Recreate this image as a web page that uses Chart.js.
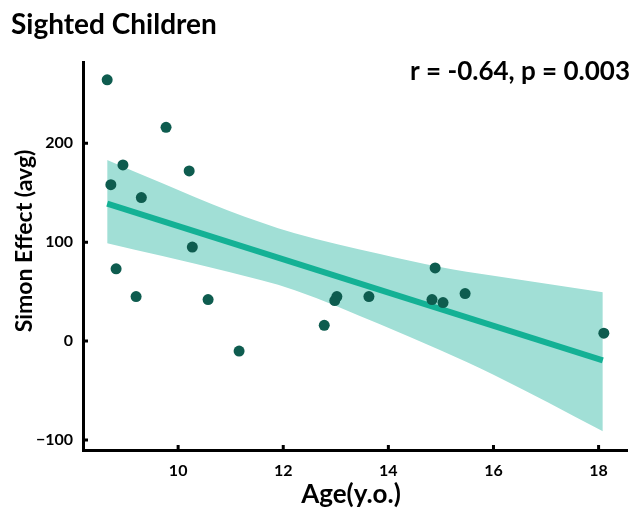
<!DOCTYPE html>
<html>
<head>
<meta charset="utf-8">
<script src="https://cdn.jsdelivr.net/npm/chart.js@4/dist/chart.umd.min.js"></script>
<style>
html,body{margin:0;padding:0;background:#fff;}
#wrap{width:633px;height:512px;position:relative;}
</style>
</head>
<body>
<div id="wrap"><canvas id="c" width="633" height="512"></canvas></div>
<script>
// Data
const ages = [8.65, 9.77, 10.21, 8.95, 8.72, 9.30, 10.27, 8.82, 9.20, 10.57, 11.16, 12.78, 12.98, 13.02, 13.63, 14.83, 14.89, 15.04, 15.46, 18.10];
const simonEffect = [264, 216, 172, 178, 158, 145, 95, 73, 45, 42, -10, 16, 41, 45, 45, 42, 74, 39, 48, 8];
const fitAges = [8.65, 18.08];
const fitValues = [139, -19.5];
const bandAges = [8.65, 9.70, 10.95, 12.22, 13.84, 14.98, 16.00, 18.08];
const bandUpper = [183, 159.5, 132, 109, 88, 75, 66, 49.5];
const bandLower = [99, 86, 70, 51.5, 17, -9, -34, -91];
const xTicks = [10, 12, 14, 16, 18];
const yTicks = [-100, 0, 100, 200];
const titleText = 'Sighted Children';
const statText = 'r = -0.64, p = 0.003';
const xTitle = 'Age(y.o.)';
const yTitle = 'Simon Effect (avg)';

const FONT = 'Lato, "Open Sans", sans-serif';
const zip = (xs, ys) => xs.map((x, i) => ({x: x, y: ys[i]}));

const textPlugin = {
  id: 'texts',
  afterDraw(chart) {
    const ctx = chart.ctx;
    const ca = chart.chartArea;
    ctx.save();
    ctx.fillStyle = '#000';
    // title
    ctx.font = 'bold 28px ' + FONT;
    ctx.textAlign = 'left';
    ctx.textBaseline = 'alphabetic';
    ctx.fillText(titleText, 11, 34);
    // stats
    ctx.font = 'bold 26px ' + FONT;
    ctx.textAlign = 'right';
    ctx.fillText(statText, 630, 80);
    // x title
    ctx.font = 'bold 26px ' + FONT;
    ctx.textAlign = 'center';
    ctx.textBaseline = 'middle';
    ctx.fillText(xTitle, 351, 495);
    // y title
    ctx.translate(25, 241);
    ctx.rotate(-Math.PI / 2);
    ctx.font = 'bold 23px ' + FONT;
    ctx.fillText(yTitle, 0, 0);
    ctx.restore();

    // inward tick marks
    const xs = chart.scales.x, ys = chart.scales.y;
    ctx.save();
    ctx.strokeStyle = '#000';
    ctx.lineWidth = 3;
    ctx.beginPath();
    xTicks.forEach(v => {
      const px = xs.getPixelForValue(v);
      ctx.moveTo(px, ca.bottom);
      ctx.lineTo(px, ca.bottom - 5);
    });
    yTicks.forEach(v => {
      const py = ys.getPixelForValue(v);
      ctx.moveTo(ca.left, py);
      ctx.lineTo(ca.left + 5, py);
    });
    ctx.stroke();
    ctx.restore();
  }
};

new Chart(document.getElementById('c'), {
  type: 'line',
  data: {
    datasets: [
      {
        label: 'upper',
        data: zip(bandAges, bandUpper),
        borderWidth: 0,
        borderColor: 'rgba(0,0,0,0)',
        pointRadius: 0,
        fill: '+1',
        backgroundColor: '#a1dfd6',
        cubicInterpolationMode: 'monotone',
        order: 3
      },
      {
        label: 'lower',
        data: zip(bandAges, bandLower),
        borderWidth: 0,
        borderColor: 'rgba(0,0,0,0)',
        pointRadius: 0,
        fill: false,
        cubicInterpolationMode: 'monotone',
        order: 4
      },
      {
        label: 'fit',
        data: zip(fitAges, fitValues),
        borderColor: '#14b195',
        borderWidth: 6,
        pointRadius: 0,
        fill: false,
        order: 2
      },
      {
        label: 'children',
        data: zip(ages, simonEffect),
        showLine: false,
        pointRadius: 5.5,
        pointBackgroundColor: '#0e5c4f',
        pointBorderWidth: 0,
        order: 0
      }
    ]
  },
  options: {
    responsive: false,
    animation: false,
    devicePixelRatio: 1,
    layout: {padding: {left: 0, right: 5, top: 62, bottom: 0}},
    plugins: {legend: {display: false}, tooltip: {enabled: false}, title: {display: false}},
    scales: {
      x: {
        type: 'linear',
        min: 8.19,
        max: 18.55,
        afterFit(s) { s.height = 62; },
        afterBuildTicks(s) { s.ticks = xTicks.map(v => ({value: v})); },
        grid: {display: false, drawTicks: false},
        border: {display: true, color: '#000', width: 3},
        ticks: {color: '#000', padding: 11, font: {family: FONT, size: 16, weight: 'bold'}, maxRotation: 0}
      },
      y: {
        type: 'linear',
        min: -110,
        max: 282,
        afterFit(s) { s.width = 83; },
        afterBuildTicks(s) { s.ticks = yTicks.map(v => ({value: v})); },
        grid: {display: false, drawTicks: false},
        border: {display: true, color: '#000', width: 3},
        ticks: {
          color: '#000', padding: 10, font: {family: FONT, size: 16, weight: 'bold'},
          callback: v => (v < 0 ? '\u2212' + Math.abs(v) : String(v))
        }
      }
    }
  },
  plugins: [textPlugin]
});
</script>
</body>
</html>
